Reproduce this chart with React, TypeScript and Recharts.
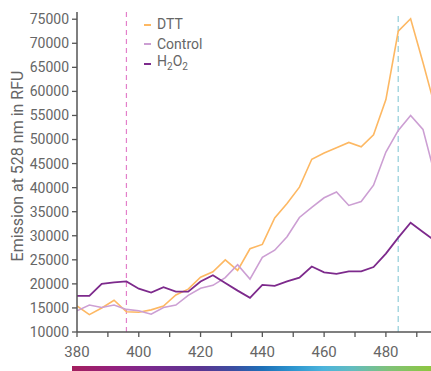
import React from 'react';
import { LineChart, Line, XAxis, YAxis, ReferenceLine } from 'recharts';

// Emission spectra (every 4 nm)
const WAVELENGTHS = [380, 384, 388, 392, 396, 400, 404, 408, 412, 416, 420, 424, 428, 432, 436, 440, 444, 448, 452, 456, 460, 464, 468, 472, 476, 480, 484, 488, 492, 496];
const DTT = [15400, 13600, 15000, 16600, 14200, 14100, 14600, 15400, 17700, 18900, 21400, 22500, 25000, 22800, 27300, 28200, 33700, 36700, 40100, 45900, 47200, 48300, 49400, 48500, 51000, 58300, 72500, 75100, 66000, 56500];
const CONTROL = [14400, 15600, 15100, 15600, 14700, 14400, 13700, 15100, 15600, 17600, 19100, 19700, 21300, 24000, 21000, 25500, 27000, 29800, 33800, 35900, 37900, 39100, 36300, 37100, 40500, 47400, 51900, 55000, 52100, 42300];
const H2O2 = [17500, 17500, 20000, 20300, 20500, 19000, 18200, 19300, 18400, 18400, 20500, 21800, 20200, 18600, 17100, 19800, 19600, 20500, 21300, 23600, 22400, 22100, 22600, 22600, 23500, 26300, 29600, 32700, 30800, 28900];

const X_TICKS = [380, 390, 400, 410, 420, 430, 440, 450, 460, 470, 480, 490];
const Y_TICKS = [10000, 15000, 20000, 25000, 30000, 35000, 40000, 45000, 50000, 55000, 60000, 65000, 70000, 75000];
const EXCITATION = 396;
const EMISSION = 484;

const COLORS = {
    dtt: '#fdb863',
    control: '#cc9fd3',
    h2o2: '#7d2a8c',
};

const FONT = 'Roboto, "DejaVu Sans", sans-serif';
const TEXT = '#666';
const AXIS = '#555';

const chartData = WAVELENGTHS.map((nm, i) => ({
    nm,
    dtt: DTT[i],
    control: CONTROL[i],
    h2o2: H2O2[i],
}));

// legend drawn as an overlay so it doesn't eat into the plot area
const LegendBox = () => {
    const rows = [
        { key: 'dtt', color: COLORS.dtt, label: <>DTT</> },
        { key: 'control', color: COLORS.control, label: <>Control</> },
        { key: 'h2o2', color: COLORS.h2o2, label: <>H<sub style={{ fontSize: 10 }}>2</sub>O<sub style={{ fontSize: 10 }}>2</sub></> },
    ];
    return (
        <div style={{ position: 'absolute', left: 144, top: 15, fontFamily: FONT, fontSize: 14, color: TEXT }}>
            {rows.map(r => (
                <div key={r.key} style={{ display: 'flex', alignItems: 'center', height: 19.5 }}>
                    <span style={{ display: 'inline-block', width: 7, height: 2, background: r.color, marginRight: 6 }} />
                    <span style={{ lineHeight: '19.5px' }}>{r.label}</span>
                </div>
            ))}
        </div>
    );
};

const YTitle = () => (
    <text
        x={17}
        y={166}
        transform="rotate(-90 17 166)"
        textAnchor="middle"
        dominantBaseline="central"
        fill={TEXT}
        fontSize={16}
        fontFamily={FONT}
    >
        Emission at 528 nm in RFU
    </text>
);

export default function App() {
    return (
        <div style={{ position: 'absolute', left: 0, top: 0, width: 431, height: 371, background: '#fff' }}>
            <LineChart
                width={431}
                height={371}
                data={chartData}
                margin={{ top: 12, right: 0, bottom: 0, left: 0 }}
            >
                <XAxis
                    dataKey="nm"
                    type="number"
                    domain={[380, 494.6]}
                    allowDataOverflow
                    ticks={X_TICKS}
                    interval={0}
                    tickFormatter={(v) => (v % 20 === 0 ? String(v) : '')}
                    height={39}
                    tickSize={5}
                    tickMargin={9}
                    axisLine={{ stroke: AXIS, strokeWidth: 1.5 }}
                    tickLine={{ stroke: AXIS, strokeWidth: 1.3 }}
                    tick={{ fill: TEXT, fontSize: 15, fontFamily: FONT }}
                />
                <YAxis
                    type="number"
                    domain={[10000, 76500]}
                    ticks={Y_TICKS}
                    interval={0}
                    width={77}
                    tickSize={5}
                    tickMargin={3}
                    axisLine={{ stroke: AXIS, strokeWidth: 1.5 }}
                    tickLine={{ stroke: AXIS, strokeWidth: 1.3 }}
                    tick={{ fill: TEXT, fontSize: 14, fontFamily: FONT }}
                    label={<YTitle />}
                />
                <ReferenceLine x={EXCITATION} stroke="#e37fca" strokeDasharray="5 4" strokeWidth={1.2} />
                <ReferenceLine x={EMISSION} stroke="#a6d7e0" strokeDasharray="6 4" strokeWidth={1.5} />
                <Line type="linear" dataKey="dtt" stroke={COLORS.dtt} strokeWidth={1.6} dot={false} isAnimationActive={false} />
                <Line type="linear" dataKey="control" stroke={COLORS.control} strokeWidth={1.6} dot={false} isAnimationActive={false} />
                <Line type="linear" dataKey="h2o2" stroke={COLORS.h2o2} strokeWidth={1.8} dot={false} isAnimationActive={false} />
            </LineChart>
            <LegendBox />
            <div
                style={{
                    position: 'absolute',
                    left: 72,
                    top: 366,
                    width: 359,
                    height: 5,
                    background: 'linear-gradient(to right, #a41f5e 0%, #93217f 12%, #7a2a8e 22%, #5a3592 36%, #3b4ea2 45%, #1d70b8 53%, #2e97d0 62%, #4cb4dc 70%, #62bcc0 78%, #7fc27a 88%, #8dc63f 100%)',
                }}
            />
        </div>
    );
}
